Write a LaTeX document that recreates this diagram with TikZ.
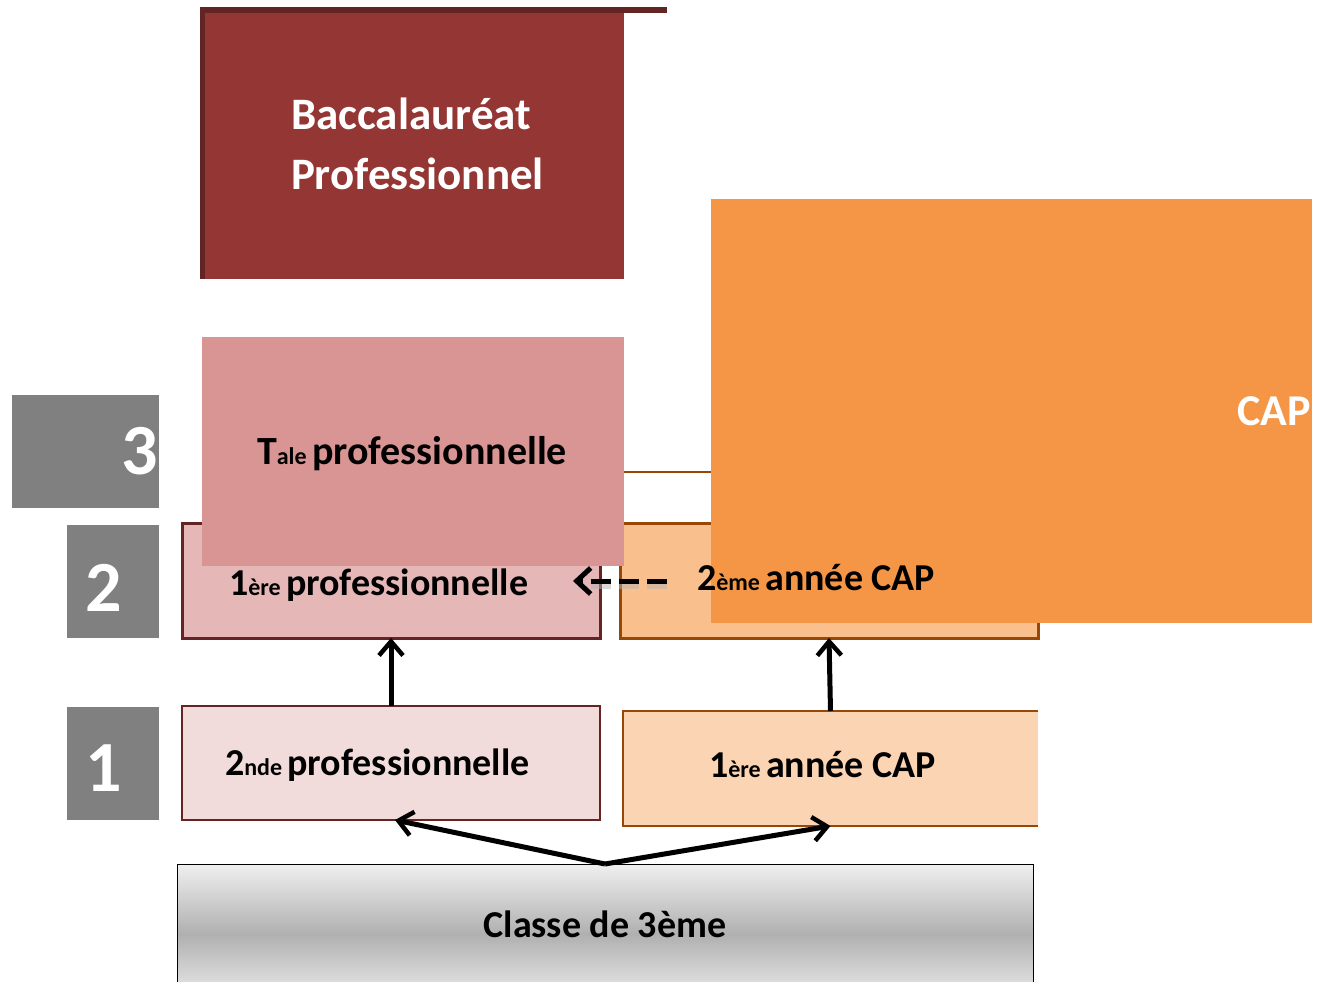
\documentclass[tikz,border=0pt]{standalone}
\usepackage{fontspec}
\setmainfont{Carlito}
\usetikzlibrary{arrows.meta,calc}
\definecolor{bacfill}{HTML}{943634}
\definecolor{bacdark}{HTML}{632523}
\definecolor{talefill}{HTML}{D99594}
\definecolor{profa}{HTML}{E5B8B7}
\definecolor{profb}{HTML}{F2DCDB}
\definecolor{capa}{HTML}{F9C08E}
\definecolor{capb}{HTML}{FBD4B4}
\definecolor{capline}{HTML}{974806}
\definecolor{capbig}{HTML}{F59646}
\definecolor{numgray}{HTML}{808080}
\newcommand\petit[1]{{\fontsize{24}{24}\selectfont #1}}
\tikzset{
  plainbox/.style={rectangle, inner sep=0pt, outer sep=0pt},
  lbl/.style={inner sep=0pt, outer sep=0pt, font=\bfseries\fontsize{38}{44}\selectfont},
  whitelbl/.style={inner sep=0pt, outer sep=0pt, text=white, font=\bfseries\fontsize{45}{54}\selectfont},
  numlbl/.style={inner sep=0pt, outer sep=0pt, text=white, font=\bfseries\fontsize{72}{80}\selectfont},
  arr/.style={line width=5pt, -{Straight Barb[length=14pt,width=24pt,line width=4.5pt]}},
}
\begin{document}
\begin{tikzpicture}[x=1pt,y=-1pt]
\useasboundingbox (0,0) rectangle (1317,982);
% Bac pro
\node[plainbox, fill=bacfill, minimum width=424pt, minimum height=266pt] (bac) at (412,146) {};
\fill[bacdark] (bac.north west) rectangle ($(bac.south west)+(5,0)$);
\fill[bacdark] (200,7) rectangle (667,13);
\node[whitelbl, anchor=base west] (bact1) at (291,129) {Baccalauréat};
\node[whitelbl, anchor=base west] (bact2) at (291,189) {Professionnel};
% gray numbers
\node[plainbox, fill=numgray, minimum width=147pt, minimum height=113pt] (g3) at (85.5,451.5) {};
\node[plainbox, fill=numgray, minimum width=92pt, minimum height=113pt] (g2) at (113,581.5) {};
\node[plainbox, fill=numgray, minimum width=92pt, minimum height=113pt] (g1) at (113,763.5) {};
\node[numlbl, anchor=base east] (n3) at (158,474) {3};
\node[numlbl, anchor=base] (n2) at (104,611) {2};
\node[numlbl, anchor=base] (n1) at (104,791) {1};
% level 2 boxes
\node[plainbox, fill=profa, draw=bacdark, line width=3pt, minimum width=418pt, minimum height=115pt] (pro1) at (391,580.5) {};
\node[plainbox, fill=capa, draw=capline, line width=3pt, minimum width=418pt, minimum height=115pt] (cap2) at (829,580.5) {};
\draw[capline, line width=2pt] (624,471.5) -- (711,471.5);
% Tale
\node[plainbox, fill=talefill, minimum width=422pt, minimum height=229pt] (tale) at (413,451.5) {};
\node[lbl, font=\bfseries\fontsize{40}{46}\selectfont, anchor=base west] (talet) at (257,464) {T\petit{ale }professionnelle};
% big CAP
\node[plainbox, fill=capbig, minimum width=601pt, minimum height=424pt] (capbig) at (1011.5,411) {};
\node[whitelbl, font=\bfseries\fontsize{44}{50}\selectfont, anchor=base east] (capt) at (1311,425) {CAP};
\node[lbl, anchor=base west] (pro1t) at (229,595) {1\petit{ère }professionnelle};
\node[lbl, anchor=base west] (cap2t) at (697,590) {2\petit{ème }année CAP};
% level 1 boxes
\node[plainbox, fill=profb, draw=bacdark, line width=2pt, minimum width=418pt, minimum height=114pt] (pro2) at (391,763) {};
\node[plainbox, fill=capb, minimum width=415pt, minimum height=115pt] (cap1) at (830.5,768.5) {};
\draw[capline, line width=2pt] (cap1.north east) -- (cap1.north west) -- (cap1.south west) -- (cap1.south east);
\node[lbl, anchor=base west] (pro2t) at (225,775) {2\petit{nde }professionnelle};
\node[lbl, anchor=base west] (cap1t) at (709,777) {1\petit{ère }année CAP};
% classe de 3eme
\node[plainbox, draw=black, line width=1pt, top color=gray!12, bottom color=gray!12, middle color=gray!62, minimum width=856pt, minimum height=140pt] (classe) at (605,934) {};
\node[lbl, anchor=base] (classet) at (605,937) {Classe de 3ème};
% arrows
\draw[arr] (pro2.north) -- (pro1.south);
\draw[arr] (cap1.north) -- (cap2.south);
\draw[arr] (classe.north) -- ($(pro2.south)+(4,0)$);
\draw[arr] (classe.north) -- (cap1.south);
\coordinate (dstart) at (667,581);
\draw[line width=5pt, black!30, opacity=0.5, dash pattern=on 20pt off 8pt] ($(dstart)+(0,5)$) -- ($(pro1.east)+(-22,5.5)$);
\draw[arr, line width=5pt, dash pattern=on 20pt off 8pt, -{Straight Barb[length=14pt,width=26pt,line width=5pt]}] (dstart) -- ($(pro1.east)+(-27,0.5)$);
\end{tikzpicture}
\end{document}
